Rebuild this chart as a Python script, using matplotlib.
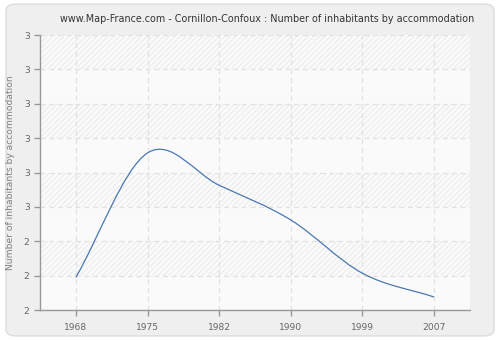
import matplotlib
matplotlib.use("Agg")
import matplotlib.pyplot as plt
from matplotlib.path import Path
from matplotlib.patches import PathPatch, FancyBboxPatch, Rectangle
from matplotlib.ticker import FixedLocator, FixedFormatter

# data
years = ["1968", "1975", "1982", "1990", "1999", "2007"]
values = [2.295, 2.657, 2.563, 2.462, 2.307, 2.238]
ytick_vals = [2.2, 2.3, 2.4, 2.5, 2.6, 2.7, 2.8, 2.9, 3.0]
ytick_labels = ["2", "2", "2", "3", "3", "3", "3", "3", "3"]

titleText = "www.Map-France.com - Cornillon-Confoux : Number of inhabitants by accommodation"
ylabelText = "Number of inhabitants by accommodation"

lineColor = "#4a78b0"
textColor = "#666666"

plt.rcParams['hatch.linewidth'] = 0.6


def smoothPath(xs, ys):
	# catmull-rom style segments as bezier curves
	n = len(xs)
	slopes = []
	for i in range(n):
		if i == 0:
			m = (ys[1] - ys[0]) / (xs[1] - xs[0])
		elif i == n - 1:
			m = (ys[-1] - ys[-2]) / (xs[-1] - xs[-2])
		else:
			m = (ys[i + 1] - ys[i - 1]) / (xs[i + 1] - xs[i - 1])
		slopes.append(m)
	verts = [(xs[0], ys[0])]
	codes = [Path.MOVETO]
	for i in range(n - 1):
		h = xs[i + 1] - xs[i]
		verts.append((xs[i] + h / 3, ys[i] + slopes[i] * h / 3))
		verts.append((xs[i + 1] - h / 3, ys[i + 1] - slopes[i + 1] * h / 3))
		verts.append((xs[i + 1], ys[i + 1]))
		codes += [Path.CURVE4] * 3
	return Path(verts, codes)


xpos = list(range(len(years)))
xmin, xmax = -0.5, len(years) - 0.5

fig = plt.figure(figsize=(5, 3.4), dpi=100)
fig.patch.set_facecolor("white")
fig.patches.append(FancyBboxPatch((0.012, 0.012), 0.976, 0.976, boxstyle="round,pad=0,rounding_size=0.02",
	transform=fig.transFigure, facecolor="#efefef", edgecolor="#dcdcdc", linewidth=1, zorder=-10))

ax = fig.add_axes([0.08, 0.088, 0.86, 0.809])
ax.set_facecolor("#fafafa")
ax.set_xlim(xmin, xmax)
ax.set_ylim(2.2, 3.0)

# hatched bands, every other one
for i in range(0, len(ytick_vals) - 1, 2):
	ax.add_patch(Rectangle((xmin, ytick_vals[i + 1]), xmax - xmin, 0.1, facecolor="none",
		edgecolor="#e8e8e8", hatch="//////", linewidth=0, zorder=0))

ax.add_patch(PathPatch(smoothPath(xpos, values), facecolor="none", edgecolor=lineColor, linewidth=0.9, zorder=3))

ax.xaxis.set_major_locator(FixedLocator(xpos))
ax.xaxis.set_major_formatter(FixedFormatter(years))
ax.yaxis.set_major_locator(FixedLocator(ytick_vals))
ax.yaxis.set_major_formatter(FixedFormatter(ytick_labels))

ax.grid(True, color="#e2e2e2", linestyle=(0, (4, 3)), linewidth=0.9, zorder=1)
ax.set_axisbelow(True)

for s in ["top", "right"]:
	ax.spines[s].set_visible(False)
for s in ["left", "bottom"]:
	ax.spines[s].set_color("#999999")
	ax.spines[s].set_linewidth(1)

ax.tick_params(axis="both", colors="#999999", labelcolor=textColor, labelsize=6.6, length=4, width=1, direction="out")
ax.tick_params(axis="x", pad=5)

ax.set_ylabel(ylabelText, fontsize=6.6, color="#808080", labelpad=6)
fig.text(0.534, 0.945, titleText, ha="center", va="center", fontsize=6.9, color="#333333")

fig.savefig("out.png", dpi=100, facecolor=fig.get_facecolor())
